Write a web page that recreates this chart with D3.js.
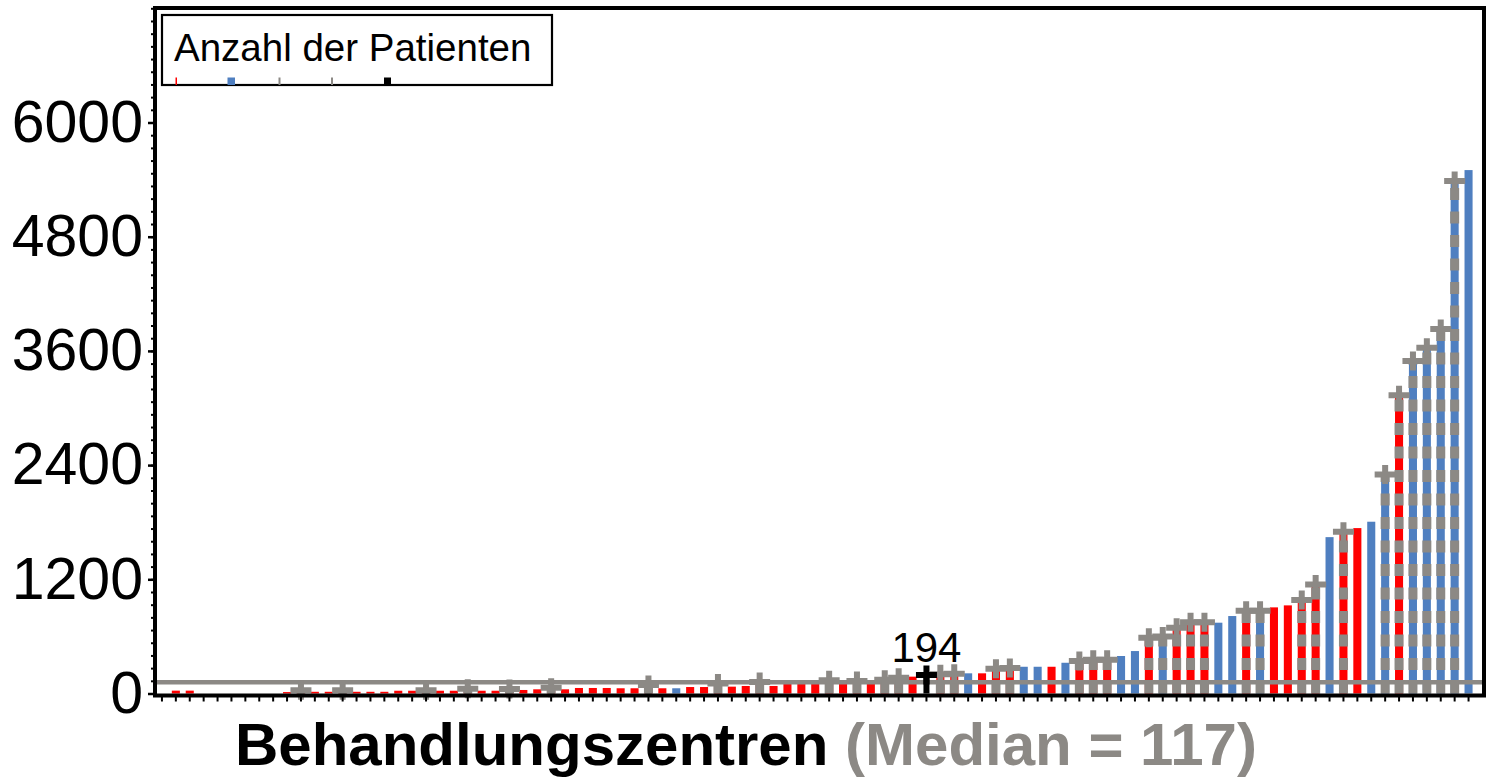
<!DOCTYPE html>
<html>
<head>
<meta charset="utf-8">
<script src="https://cdn.jsdelivr.net/npm/d3@7"></script>
<style>
  body { margin: 0; background: #fff; }
  svg { display: block; font-family: "Liberation Sans", Arial, sans-serif; }
</style>
</head>
<body>
<svg id="chart" width="1496" height="781"></svg>
<script>
const patients = [0, 30, 30, 0, 0, 0, 0, 0, 0, 15,
  35, 18, 18, 35, 18, 18, 18, 29, 29, 35,
  29, 29, 50, 29, 29, 47, 37, 44, 60, 44,
  58, 58, 58, 55, 55, 90, 55, 55, 68, 68,
  105, 72, 79, 120, 79, 114, 114, 114, 138, 124,
  131, 124, 145, 166, 177, 194, 201, 208, 212, 212,
  260, 268, 281, 281, 281, 323, 341, 355, 355, 394,
  446, 586, 600, 691, 748, 748, 744, 814, 870, 870,
  905, 926, 982, 1145, 1643, 1700, 1738, 1805, 2300, 3134,
  3493, 3632, 3830, 5384, 5500];
// r = rot, b = blau
const typ = ['r','r','r','r','r','r','r','r','r','r',
  'r','r','r','r','r','r','r','r','r','r',
  'r','r','r','r','r','r','r','r','r','r',
  'r','r','r','r','r','r','r','b','r','r',
  'r','r','r','r','r','r','r','r','r','r',
  'r','r','r','r','r','r','r','r','b','r',
  'r','r','b','b','r','b','r','r','r','b',
  'b','r','b','r','r','r','b','b','r','b',
  'r','r','r','r','b','r','r','b','b','r',
  'b','b','b','b','b'];
// 1 = grau gestrichelt mit Kreuz
const markiert = [0,0,0,0,0,0,0,0,0,0,
  1,0,0,1,0,0,0,0,0,1,
  0,0,1,0,0,1,0,0,1,0,
  0,0,0,0,0,1,0,0,0,0,
  1,0,0,1,0,0,0,0,1,0,
  1,0,1,1,0,0,1,1,0,0,
  1,1,0,0,0,0,1,1,1,0,
  0,1,1,1,1,1,0,0,1,1,
  0,0,1,1,0,1,0,0,1,1,
  1,1,1,1,0];
const hervorIndex = 55;
const yTicks = [0, 1200, 2400, 3600, 4800, 6000];
const medianWert = 117;

const farben = { r: '#ff0000', b: '#4f7fc0' };
const grau = '#8c8985';

const svg = d3.select('#chart');
const pLeft = 155, pRight = 1484, pTop = 8, pBottom = 693.5;
const step = 13.9;

const x = d3.scaleBand().domain(d3.range(patients.length))
  .range([pLeft, pLeft + patients.length * step])
  .paddingInner(0.42).paddingOuter(0.21);
const y = d3.scaleLinear().domain([0, 7200]).range([pBottom, pTop + 0.3]);

// Balken
svg.append('g').selectAll('rect').data(patients).enter().append('rect')
  .attr('x', (d, i) => x(i))
  .attr('y', d => y(d))
  .attr('width', x.bandwidth())
  .attr('height', d => pBottom - y(d))
  .attr('fill', (d, i) => i === hervorIndex ? 'none' : farben[typ[i]]);

// Median-Linie
svg.append('line')
  .attr('x1', pLeft).attr('x2', pRight)
  .attr('y1', y(medianWert)).attr('y2', y(medianWert))
  .attr('stroke', grau).attr('stroke-width', 4.5);

const cx = i => x(i) + x.bandwidth() / 2;
const markIdx = d3.range(patients.length).filter(i => markiert[i]);

// gestrichelte graue Linien
svg.append('g').selectAll('line').data(markIdx).enter().append('line')
  .attr('x1', cx).attr('x2', cx)
  .attr('y1', pBottom).attr('y2', i => y(patients[i]))
  .attr('stroke', grau).attr('stroke-width', 9)
  .attr('stroke-dasharray', '12,11.5');

// Kreuze
const kreuz = 'M-10.5,0H10.5M0,-9.5V9.5';
svg.append('g').selectAll('path').data(markIdx).enter().append('path')
  .attr('d', kreuz)
  .attr('transform', i => 'translate(' + cx(i) + ',' + y(patients[i]) + ')')
  .attr('stroke', grau).attr('stroke-width', 6).attr('fill', 'none');

// hervorgehobenes Zentrum
svg.append('line')
  .attr('x1', cx(hervorIndex)).attr('x2', cx(hervorIndex))
  .attr('y1', pBottom).attr('y2', y(patients[hervorIndex]))
  .attr('stroke', '#000').attr('stroke-width', 6);
svg.append('path').attr('d', kreuz)
  .attr('transform', 'translate(' + cx(hervorIndex) + ',' + y(patients[hervorIndex]) + ')')
  .attr('stroke', '#000').attr('stroke-width', 6).attr('fill', 'none');
svg.append('text')
  .attr('x', cx(hervorIndex)).attr('y', y(patients[hervorIndex]) - 13)
  .attr('text-anchor', 'middle').attr('font-size', 42).attr('fill', '#000')
  .text(patients[hervorIndex]);

// Achsen
const yAxis = svg.append('g').attr('transform', 'translate(' + pLeft + ',0)')
  .call(d3.axisLeft(y).tickValues(yTicks).tickSize(7).tickPadding(5).tickFormat(d3.format('d')));
yAxis.select('.domain').remove();
yAxis.selectAll('line').attr('stroke-width', 2.5);
yAxis.selectAll('text').attr('font-size', 59).attr('fill', '#000')
  .attr('font-family', '"Liberation Sans", Arial, sans-serif');

const yMinor = svg.append('g').attr('transform', 'translate(' + pLeft + ',0)')
  .call(d3.axisLeft(y).tickValues(d3.range(0, 7201, 1200 / 9)).tickSize(4).tickFormat(''));
yMinor.select('.domain').remove();
yMinor.selectAll('line').attr('stroke-width', 2);

const xAxis = svg.append('g').attr('transform', 'translate(0,' + (pBottom + 2) + ')')
  .call(d3.axisBottom(x).tickSize(6).tickFormat(''));
xAxis.select('.domain').remove();
xAxis.selectAll('line').attr('stroke-width', 2);

// Rahmen
svg.append('rect')
  .attr('x', pLeft).attr('y', pTop)
  .attr('width', pRight - pLeft).attr('height', pBottom + 2 - pTop)
  .attr('fill', 'none').attr('stroke', '#000').attr('stroke-width', 4);

// Legende
const leg = svg.append('g');
leg.append('rect').attr('x', 162).attr('y', 15).attr('width', 390).attr('height', 70)
  .attr('fill', '#fff').attr('stroke', '#000').attr('stroke-width', 2.2);
leg.append('text').attr('x', 174).attr('y', 61).attr('font-size', 38.5).attr('fill', '#000')
  .text('Anzahl der Patienten');
const legItems = [
  { x: 175.5, w: 1.5, c: '#ff0000' },
  { x: 227.5, w: 7.5, c: farben.b },
  { x: 278.5, w: 2, c: grau },
  { x: 331, w: 2, c: grau },
  { x: 384, w: 7, c: '#000' }
];
leg.selectAll('.sym').data(legItems).enter().append('rect')
  .attr('x', d => d.x).attr('y', 77.5).attr('width', d => d.w).attr('height', 7.5)
  .attr('fill', d => d.c);

// Achsentitel
const titel = svg.append('text').attr('x', 235).attr('y', 765)
  .attr('font-size', 60).attr('font-weight', 'bold');
titel.append('tspan').attr('fill', '#000').text('Behandlungszentren ');
titel.append('tspan').attr('fill', grau).text('(Median = ' + medianWert + ')');
</script>
</body>
</html>
